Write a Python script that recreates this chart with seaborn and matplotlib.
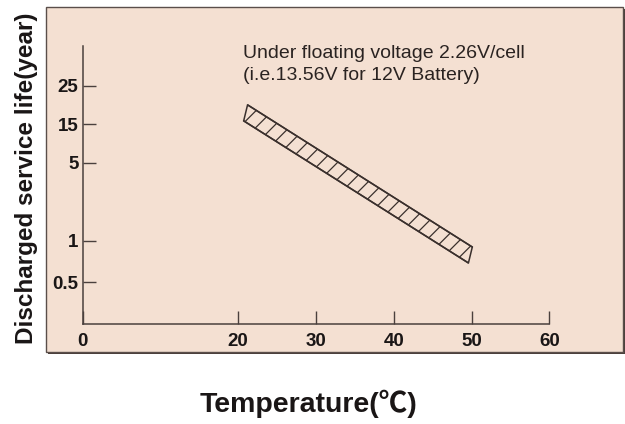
import numpy as np
import pandas as pd
import seaborn as sns
import matplotlib.pyplot as plt
from matplotlib.patches import Rectangle

# Données (bande de durée de vie)
temp_upper = [21.2, 50.1]
life_upper = [19.4, 0.9]
temp_lower = [20.7, 49.6]
life_lower = [15.7, 0.69]

x_ticks = [0, 20, 30, 40, 50, 60]
y_ticks = [0.5, 1, 5, 15, 25]
y_ticklabels = ["0.5", "1", "5", "15", "25"]

# Echelle non uniforme de l'axe Y (hauteur en px au-dessus de l'axe X)
scale_vals = [0.5, 1, 5, 15, 25]
scale_pos = [42.0, 83.6, 161.3, 200.0, 238.6]
axis_height = 278.3

note = "Under floating voltage 2.26V/cell\n(i.e.13.56V for 12V Battery)"

# Construction de l'échelle (interpolation en log, extrapolation linéaire)
lv = np.log10(scale_vals)
pv = np.array(scale_pos)
s_lo = (pv[1] - pv[0]) / (lv[1] - lv[0])
s_hi = (pv[-1] - pv[-2]) / (lv[-1] - lv[-2])
LOG_A = np.concatenate([[lv[0] - 6], lv, [lv[-1] + 6]])
POS_A = np.concatenate([[pv[0] - 6 * s_lo], pv, [pv[-1] + 6 * s_hi]])


def fwd(v):
    v = np.clip(np.asarray(v, dtype=float), 1e-9, None)
    return np.interp(np.log10(v), LOG_A, POS_A)


def inv(p):
    return 10 ** np.interp(np.asarray(p, dtype=float), POS_A, LOG_A)


sns.set_theme(style="ticks")
plt.rcParams['font.family'] = ['Liberation Sans', 'Noto Sans CJK SC', 'DejaVu Sans']
plt.rcParams['hatch.linewidth'] = 0.9

dark = '#3a302d'
peach = '#F4E0D2'

fig = plt.figure(figsize=(6.25, 4.24), dpi=100)
fig.patch.set_facecolor('white')

# Panneau de fond (derrière les axes) avec une petite ombre
fig.patches.append(Rectangle((47.5 / 625, 1 - 353.5 / 424), 577 / 625, 345 / 424,
                             transform=fig.transFigure, facecolor='#4a3f3b',
                             edgecolor='none', zorder=-6))
fig.patches.append(Rectangle((46 / 625, 1 - 352 / 424), 577 / 625, 345 / 424,
                             transform=fig.transFigure, facecolor=peach,
                             edgecolor='#5a4e4a', linewidth=1.0, zorder=-5))

ax = fig.add_axes([82.7 / 625, 1 - 324.3 / 424, 466.6 / 625, 278.3 / 424])
ax.set_facecolor('none')
ax.set_yscale('function', functions=(fwd, inv))

# Bande hachurée
poly_t = temp_upper + temp_lower[::-1]
poly_l = life_upper + life_lower[::-1]
ax.fill(poly_t, poly_l, facecolor='none', edgecolor=dark, hatch='//', linewidth=1.1)

df = pd.DataFrame({
    'temp': temp_upper + temp_lower,
    'life': life_upper + life_lower,
    'edge': ['upper'] * 2 + ['lower'] * 2,
})
sns.lineplot(data=df, x='temp', y='life', units='edge', estimator=None,
             color=dark, linewidth=1.1, ax=ax)

ax.set_xlim(0, 60)
ax.set_ylim(float(inv(0)), float(inv(axis_height)))
ax.set_xticks(x_ticks)
ax.set_xticklabels([str(t) for t in x_ticks])
ax.set_yticks(y_ticks)
ax.set_yticklabels(y_ticklabels)
ax.minorticks_off()

for s in ['top', 'right']:
    ax.spines[s].set_visible(False)
for s in ['left', 'bottom']:
    ax.spines[s].set_color('#4a403d')
    ax.spines[s].set_linewidth(1.1)

ax.tick_params(axis='both', direction='in', length=9.5, width=1, color='#4a403d',
               labelsize=13.5, labelcolor='#1a1616')
ax.tick_params(axis='x', pad=6)
ax.tick_params(axis='y', pad=3)
for lab in ax.get_xticklabels() + ax.get_yticklabels():
    lab.set_fontweight('bold')

ax.set_ylabel("Discharged service life(year)", fontsize=17.5, fontweight='bold',
              color='#1a1616', va='center')
ax.yaxis.set_label_coords(-0.1215, 0.526)
ax.set_xlabel("Temperature(℃)", fontsize=20.5, fontweight='bold',
              color='#1a1616', va='center')
ax.xaxis.set_label_coords(0.483, -0.286)

fig.text(243 / 625, 1 - 80 / 424, note, fontsize=14, color='#2a2321',
         ha='left', va='baseline', linespacing=1.35)

fig.savefig('out.png', dpi=100, facecolor='white')
